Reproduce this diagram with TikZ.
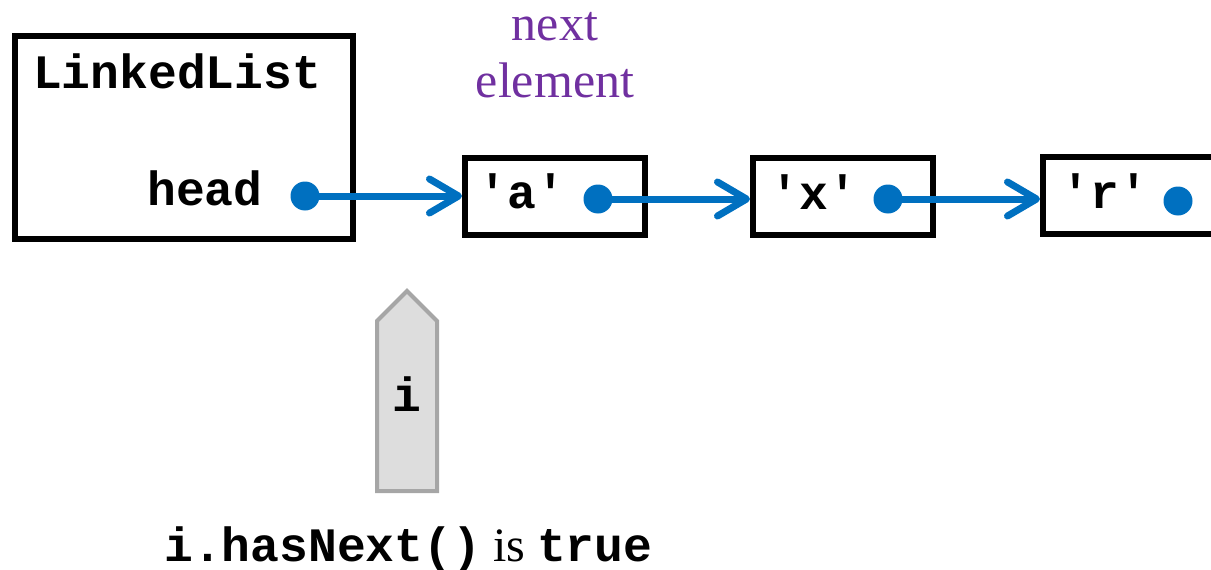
\documentclass[tikz,border=0pt]{standalone}
\usepackage{fontspec}
\setmainfont{Liberation Serif}
\setmonofont{Liberation Mono}
\usetikzlibrary{arrows.meta}
\definecolor{ptrblue}{HTML}{0070C0}
\definecolor{notepurple}{HTML}{7030A0}
\definecolor{iterfill}{HTML}{DDDDDD}
\definecolor{iteredge}{HTML}{A6A6A6}
\begin{document}
\begin{tikzpicture}[x=1pt,y=-1pt,
  code/.style={font=\fontsize{48}{50}\selectfont\ttfamily\bfseries, inner sep=0pt},
  cell/.style={draw=black, line width=6pt, minimum width=180pt, minimum height=77pt, inner sep=0pt},
  dot/.style={circle, fill=ptrblue, minimum size=29pt, inner sep=0pt},
  link/.style={draw=ptrblue, line width=7pt,
    -{Straight Barb[length=29pt,width=34pt,line cap=round,line join=round]}}
]
\useasboundingbox (0,0) rectangle (1211,570);
\clip (0,0) rectangle (1211,570);

% the list object
\node[cell, minimum width=338pt, minimum height=203pt] (list) at (183.5,137.5) {};
\node[code, anchor=base west] (listname) at (33,88) {LinkedList};
\node[code, anchor=base west] (headlbl) at (147,205) {head};
\node[dot] (headdot) at (305,196) {};

% the three elements
\node[cell] (ca) at (555,196) {};
\node[cell] (cx) at (843,196.5) {};
\node[cell] (cr) at (1133,195.5) {};
\node[code, anchor=base] (va) at (522,208) {'a'};
\node[code, anchor=base] (vx) at (814,209) {'x'};
\node[code, anchor=base] (vr) at (1105,208) {'r'};
\node[dot] (da) at (598,199) {};
\node[dot] (dx) at (888,199) {};
\node[dot] (dr) at (1178,201) {};

% links
\draw[link] (headdot.center) -- (headdot.center -| ca.west);
\draw[link] (da.center) -- (da.center -| cx.west);
\draw[link] (dx.center) -- (dx.center -| cr.west);

% caption over the first element (base = last line)
\node[font=\fontsize{50}{57}\selectfont, text=notepurple, align=center, anchor=base, inner sep=0pt]
  (note) at (555,97) {next\\element};

% the iterator
\draw[fill=iterfill, draw=iteredge, line width=4pt, line join=miter]
  (377,321) -- (407,291) -- (437,321) -- (437,491) -- (377,491) -- cycle;
\node[code, anchor=base] (iter) at (407,411) {i};

% the statement below
\node[anchor=base west, inner sep=0pt, font=\fontsize{48}{50}\selectfont] (stmt) at (164,561)
  {{\fontsize{48}{50}\selectfont\ttfamily\bfseries i.hasNext()} is {\fontsize{48}{50}\selectfont\ttfamily\bfseries true}};
\end{tikzpicture}
\end{document}
